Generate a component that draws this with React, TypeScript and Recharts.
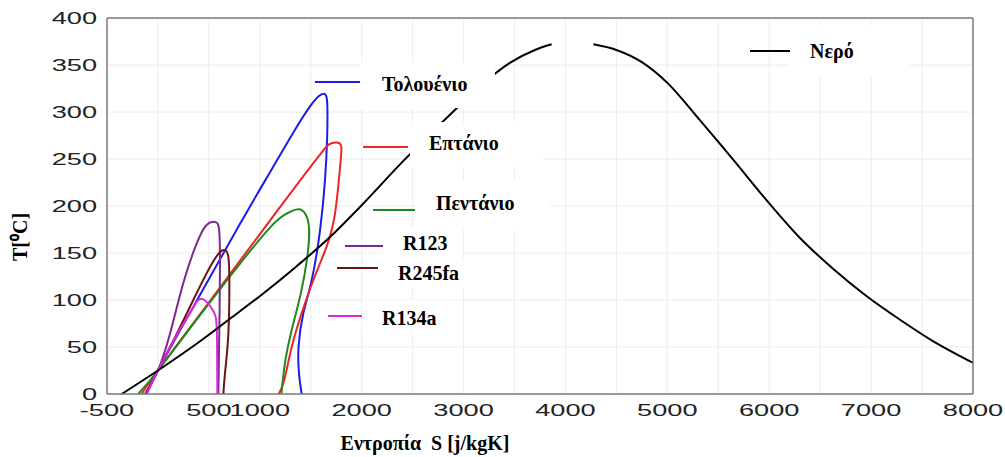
import { LineChart, Line, XAxis, YAxis, CartesianGrid } from 'recharts';

// saturation curves, [s (J/kgK), T (°C)]
const toluene: [number, number][] = [
  [-110, 0], [0, 25], [400, 103], [800, 180], [1100, 236], [1350, 282], [1500, 307],
  [1580, 317], [1630, 319.5], [1658, 314], [1664, 295], [1660, 270], [1640, 228],
  [1591, 174], [1509, 121], [1427, 86], [1380, 50], [1386, 20], [1411, 0],
];
const heptane: [number, number][] = [
  [-160, 0], [0, 25], [400, 83], [800, 141], [1200, 199], [1450, 235], [1600, 256],
  [1680, 265.5], [1750, 267.5], [1795, 265], [1800, 257], [1785, 238], [1738, 192],
  [1656, 157], [1525, 121], [1411, 86], [1313, 50], [1240, 15], [1185, 0],
];
const pentane: [number, number][] = [
  [-193, 0], [0, 25], [400, 82], [800, 138], [1100, 177], [1250, 191], [1378, 196.5],
  [1450, 191], [1483, 176], [1465, 145], [1400, 106], [1313, 68], [1247, 33], [1212, 0],
];
const r123: [number, number][] = [
  [-127, 0], [0, 25], [118, 64], [249, 118], [380, 160], [479, 180], [560, 183],
  [600, 175], [609, 135], [602, 64], [593, 0],
];
const r245fa: [number, number][] = [
  [-120, 0], [0, 25], [184, 64], [347, 100], [511, 135], [609, 151], [658, 153],
  [691, 146], [701, 118], [691, 64], [658, 22], [642, 0],
];
const r134a: [number, number][] = [
  [-110, 0], [0, 25], [180, 62], [315, 86], [396, 100], [470, 99], [540, 89],
  [570, 80], [580, 57], [583, 0],
];
const water: [number, number | null][] = [
  [-356, 0], [0, 25], [400, 55], [707, 80], [1034, 107], [1362, 136], [1689, 167],
  [1983, 199], [2409, 248], [2932, 304], [3200, 331], [3450, 352], [3700, 366], [3864, 372],
  [4070, null],
  [4274, 372], [4500, 366], [4750, 353], [5000, 331], [5321, 291], [5648, 249], [5975, 206],
  [6302, 166], [6629, 133], [6957, 104], [7284, 79], [7611, 56], [8003, 33],
];

const xTicks = [-500, 500, 1000, 2000, 3000, 4000, 5000, 6000, 7000, 8000];
const yTicks = [0, 50, 100, 150, 200, 250, 300, 350, 400];
const xGrid = [0, 500, 1000, 1500, 2000, 2500, 3000, 3500, 4000, 4500, 5000, 5500, 6000, 6500, 7000, 7500];
const xMinor = [-250, 250, 750, 1250, 1750, 2250, 2750, 3250, 3750, 4250, 4750, 5250, 5750, 6250, 6750, 7250, 7750];
const yMinor = [25, 75, 125, 175, 225, 275, 325, 375];

const series = [
  { name: 'Τολουένιο', color: '#1c1ce8', pts: toluene, curve: 'natural' },
  { name: 'Επτάνιο', color: '#f02424', pts: heptane, curve: 'natural' },
  { name: 'Πεντάνιο', color: '#1e8a1e', pts: pentane, curve: 'natural' },
  { name: 'R123', color: '#7a2a8e', pts: r123, curve: 'natural' },
  { name: 'R245fa', color: '#6e1414', pts: r245fa, curve: 'natural' },
  { name: 'R134a', color: '#e026e0', pts: r134a, curve: 'natural' },
  { name: 'Νερό', color: '#000000', pts: water, curve: 'monotoneX' },
];

// where each label sits (white box, short line, text)
const legendLayout = [
  { box: [360, 62, 135, 46], line: [315, 360, 82], text: [382, 84] },
  { box: [410, 122, 133, 45], line: [363, 408, 147], text: [429, 143] },
  { box: [415, 180, 135, 50], line: [373, 415, 210], text: [436, 203] },
  { box: [383, 228, 80, 30], line: [345, 383, 246], text: [403, 243] },
  { box: [378, 258, 95, 30], line: [337, 378, 268], text: [398, 273] },
  { box: [362, 300, 90, 34], line: [328, 362, 316], text: [382, 318] },
  { box: [790, 25, 120, 50], line: [750, 790, 51], text: [810, 51] },
];

const toPoints = (pts: [number, number | null][]) => pts.map(([s, T]) => ({ s, T }));

const tickFont = '"Liberation Sans", Arial, sans-serif';
const serif = '"Liberation Serif", "Times New Roman", serif';

const XTick = ({ x, y, payload }: any) => (
  <g transform={`translate(${x},${y + 16}) scale(1.6,1)`}>
    <text textAnchor="middle" dy="0.35em" fontSize={17} fill="#222" fontFamily={tickFont}>
      {payload.value}
    </text>
  </g>
);

const YTick = ({ x, y, payload }: any) => (
  <g transform={`translate(${x - 10},${y}) scale(1.6,1)`}>
    <text textAnchor="end" dy="0.35em" fontSize={17} fill="#222" fontFamily={tickFont}>
      {payload.value}
    </text>
  </g>
);

export default function App() {
  return (
    <div style={{ position: 'absolute', left: 0, top: 0, width: 1005, height: 457, background: '#fff' }}>
      <LineChart width={1005} height={457} margin={{ top: 18, right: 32, bottom: 0, left: 0 }}>
        <CartesianGrid
          stroke="#ececec"
          verticalValues={xGrid}
          horizontalValues={yTicks}
        />
        <XAxis
          dataKey="s"
          type="number"
          domain={[-500, 8000]}
          allowDataOverflow
          ticks={xTicks}
          interval={0}
          tick={<XTick />}
          tickLine={false}
          tickSize={0}
          tickMargin={0}
          height={63}
          axisLine={{ stroke: '#7a7a7a', strokeWidth: 1.5 }}
          label={{
            content: () => (
              <text x={425} y={450} textAnchor="middle" fontSize={20} fontWeight="bold"
                fontFamily={serif} fill="#000" style={{ whiteSpace: 'pre' }}>
                {'Εντροπία  S [j/kgK]'}
              </text>
            ),
          }}
        />
        <XAxis xAxisId="bm" type="number" domain={[-500, 8000]} allowDataOverflow orientation="bottom"
          mirror ticks={xMinor} interval={0} tick={false} tickSize={4} axisLine={false}
          tickLine={{ stroke: '#7a7a7a' }} />
        <XAxis xAxisId="top" type="number" domain={[-500, 8000]} allowDataOverflow orientation="top"
          mirror ticks={xMinor} interval={0} tick={false} tickSize={4}
          axisLine={{ stroke: '#7a7a7a', strokeWidth: 1.5 }} tickLine={{ stroke: '#7a7a7a' }} />
        <YAxis
          type="number"
          domain={[0, 400]}
          allowDataOverflow
          ticks={yTicks}
          interval={0}
          tick={<YTick />}
          tickLine={false}
          tickSize={0}
          tickMargin={0}
          width={107}
          axisLine={{ stroke: '#7a7a7a', strokeWidth: 1.5 }}
          label={{
            content: () => (
              <text x={20} y={237} transform="rotate(-90 20 237)" textAnchor="middle"
                dominantBaseline="central" fontSize={20} fontWeight="bold" fontFamily={serif} fill="#000">
                T[⁰C]
              </text>
            ),
          }}
        />
        <YAxis yAxisId="lm" type="number" domain={[0, 400]} allowDataOverflow orientation="left"
          mirror ticks={yMinor} interval={0} tick={false} tickSize={5} axisLine={false}
          tickLine={{ stroke: '#7a7a7a' }} />
        <YAxis yAxisId="rm" type="number" domain={[0, 400]} allowDataOverflow orientation="right"
          mirror tick={false} tickLine={false} axisLine={{ stroke: '#7a7a7a', strokeWidth: 1.5 }} />
        {series.map((sr) => (
          <Line
            key={sr.name}
            name={sr.name}
            data={toPoints(sr.pts)}
            dataKey="T"
            type={sr.curve as any}
            stroke={sr.color}
            strokeWidth={2}
            dot={false}
            activeDot={false}
            connectNulls={false}
            isAnimationActive={false}
          />
        ))}
      </LineChart>
      {series.map((sr, i) => {
        const l = legendLayout[i];
        return (
          <div key={sr.name}>
            <div style={{ position: 'absolute', left: l.box[0], top: l.box[1], width: l.box[2], height: l.box[3], background: '#fff' }} />
            <div style={{ position: 'absolute', left: l.line[0], top: l.line[2] - 1, width: l.line[1] - l.line[0], height: 2, background: sr.color }} />
            <div style={{
              position: 'absolute', left: l.text[0], top: l.text[1] - 12, height: 24, lineHeight: '24px',
              fontFamily: serif, fontWeight: 'bold', fontSize: 20, color: '#000', whiteSpace: 'nowrap',
            }}>
              {sr.name}
            </div>
          </div>
        );
      })}
    </div>
  );
}
